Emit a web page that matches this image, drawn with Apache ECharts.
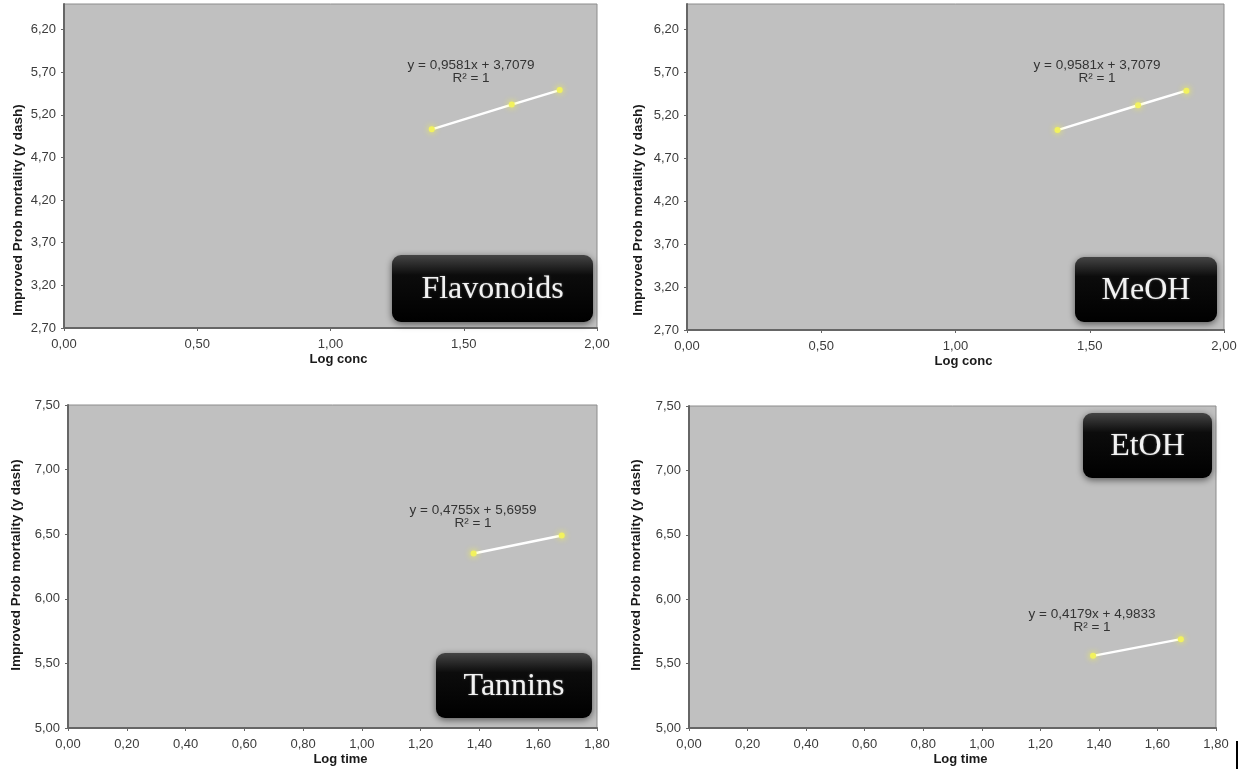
<!DOCTYPE html>
<html>
<head>
<meta charset="utf-8">
<title>Probit regression panels</title>
<script src="https://cdn.jsdelivr.net/npm/echarts@6/dist/echarts.min.js"></script>
<style>
  html, body { margin: 0; padding: 0; background: #ffffff; }
  #chart { width: 1258px; height: 769px; }
</style>
</head>
<body>
<div id="chart"></div>
<script>
// Panel data: log concentration / log time vs improved probit mortality
const panelNames = ['Flavonoids', 'MeOH', 'Tannins', 'EtOH'];
const xTitles = ['Log conc', 'Log conc', 'Log time', 'Log time'];
const yTitle = 'Improved Prob mortality (y dash)';

const flavX = [1.38, 1.68, 1.86];
const flavY = [5.03, 5.32, 5.49];
const meohX = [1.38, 1.68, 1.86];
const meohY = [5.03, 5.32, 5.49];
const tanX = [1.38, 1.68];
const tanY = [6.35, 6.49];
const etohX = [1.38, 1.68];
const etohY = [5.56, 5.69];

const equations = [
  'y = 0,9581x + 3,7079',
  'y = 0,9581x + 3,7079',
  'y = 0,4755x + 5,6959',
  'y = 0,4179x + 4,9833'
];
const rSquared = ['R² = 1', 'R² = 1', 'R² = 1', 'R² = 1'];

// Axis ranges per panel [min, max, interval]
const xRanges = [[0, 2, 0.5], [0, 2, 0.5], [0, 1.8, 0.2], [0, 1.8, 0.2]];
const yRanges = [[2.7, 6.5, 0.5], [2.7, 6.5, 0.5], [5, 7.5, 0.5], [5, 7.5, 0.5]];

const seriesX = [flavX, meohX, tanX, etohX];
const seriesY = [flavY, meohY, tanY, etohY];

// Layout of the four plot areas (pixels)
const grids = [
  { left: 64, top: 4, width: 533, height: 324 },
  { left: 687, top: 4, width: 537, height: 326 },
  { left: 68, top: 405, width: 529, height: 323 },
  { left: 689, top: 406, width: 527, height: 322 }
];

const comma = v => v.toFixed(2).replace('.', ',');
const labelFont = { color: '#3c3c3c', fontSize: 13, fontFamily: '"Liberation Sans", Arial, sans-serif' };

const chart = echarts.init(document.getElementById('chart'), null, { renderer: 'canvas' });

const gridOpts = grids.map(g => Object.assign({
  show: true,
  backgroundColor: '#c0c0c0',
  borderColor: '#8c8c8c',
  borderWidth: 1
}, g));

const xAxes = xRanges.map((r, i) => ({
  type: 'value',
  gridIndex: i,
  min: r[0], max: r[1], interval: r[2],
  name: xTitles[i],
  nameLocation: 'middle',
  nameGap: 25,
  nameTextStyle: {
    color: '#1a1a1a', fontSize: 13, fontWeight: 'bold',
    fontFamily: '"Liberation Sans", Arial, sans-serif',
    padding: [0, 0, 0, 16]
  },
  splitLine: { show: false },
  axisLine: { show: true, lineStyle: { color: '#666666', width: 2 } },
  axisTick: { show: true, length: 3, lineStyle: { color: '#666666' } },
  axisLabel: Object.assign({ margin: 10, formatter: comma }, labelFont)
}));

const yAxes = yRanges.map((r, i) => ({
  type: 'value',
  gridIndex: i,
  min: r[0], max: r[1], interval: r[2],
  splitLine: { show: false },
  axisLine: { show: true, lineStyle: { color: '#666666', width: 2 } },
  axisTick: { show: true, length: 3, lineStyle: { color: '#666666' } },
  axisLabel: Object.assign({ margin: 8, formatter: comma, showMaxLabel: r[1] === 7.5 }, labelFont)
}));

const series = seriesX.map((xs, i) => ({
  type: 'line',
  xAxisIndex: i,
  yAxisIndex: i,
  data: xs.map((x, k) => [x, seriesY[i][k]]),
  symbol: 'circle',
  symbolSize: 6,
  lineStyle: { color: '#ffffff', width: 2.5 },
  itemStyle: {
    color: '#f2f25e',
    shadowColor: 'rgba(255, 255, 40, 0.9)',
    shadowBlur: 6
  },
  z: 3,
  animation: false
}));

// Equation annotations (centre x, centre y of the two-line block)
const eqPos = [[471, 72], [1097, 72], [473, 517], [1092, 621]];
// Title badges [x, y, w, h]
const badges = [
  [392, 255, 201, 67],
  [1075, 257, 142, 65],
  [436, 653, 156, 65],
  [1083, 413, 129, 65]
];
// Y-axis title centres
const yTitlePos = [[18, 210], [638, 210], [16, 565], [636, 565]];

const graphics = [];
eqPos.forEach((p, i) => {
  graphics.push({
    type: 'text', x: p[0], y: p[1], z: 10,
    style: {
      text: equations[i] + '\n' + rSquared[i],
      fill: '#333333', font: '13.5px "Liberation Sans", Arial, sans-serif',
      textAlign: 'center', textVerticalAlign: 'middle', lineHeight: 13
    }
  });
});
badges.forEach((b, i) => {
  graphics.push({
    type: 'rect', z: 20,
    shape: { x: b[0], y: b[1], width: b[2], height: b[3], r: 9 },
    style: {
      fill: new echarts.graphic.LinearGradient(0, 0, 0, 1, [
        { offset: 0, color: '#454545' },
        { offset: 0.3, color: '#0c0c0c' },
        { offset: 1, color: '#000000' }
      ]),
      shadowBlur: 7, shadowColor: 'rgba(0,0,0,0.55)', shadowOffsetY: 2
    }
  });
  graphics.push({
    type: 'text', z: 21,
    x: b[0] + b[2] / 2, y: b[1] + b[3] / 2 + 1,
    style: {
      text: panelNames[i], fill: '#f2f2f2',
      font: '32px "Liberation Serif", "Times New Roman", serif',
      textAlign: 'center', textVerticalAlign: 'middle',
      textShadowColor: 'rgba(255,255,255,0.35)', textShadowBlur: 2
    }
  });
});
yTitlePos.forEach(p => {
  graphics.push({
    type: 'text', x: p[0], y: p[1], rotation: Math.PI / 2, z: 10,
    style: {
      text: yTitle, fill: '#1a1a1a',
      font: 'bold 13.5px "Liberation Sans", Arial, sans-serif',
      textAlign: 'center', textVerticalAlign: 'middle'
    }
  });
});
// Short vertical rule at the lower right corner of the page
graphics.push({
  type: 'line', z: 10,
  shape: { x1: 1237, y1: 741, x2: 1237, y2: 769 },
  style: { stroke: '#000000', lineWidth: 2 }
});

chart.setOption({
  animation: false,
  backgroundColor: '#ffffff',
  grid: gridOpts,
  xAxis: xAxes,
  yAxis: yAxes,
  series: series,
  graphic: graphics
});
</script>
</body>
</html>
